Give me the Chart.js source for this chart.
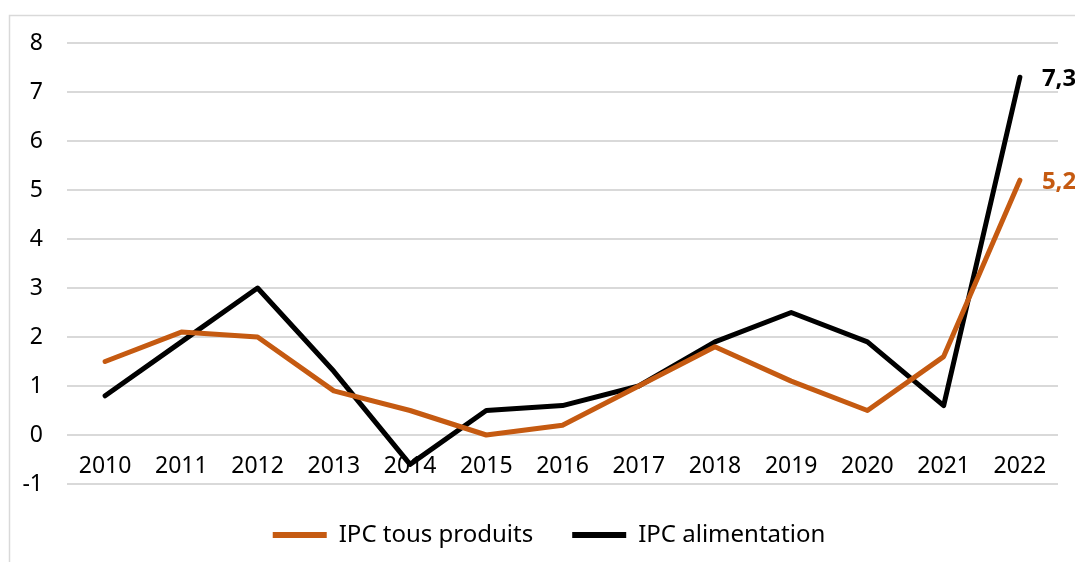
<!DOCTYPE html>
<html>
<head>
<meta charset="utf-8">
<script src="https://cdn.jsdelivr.net/npm/chart.js@4"></script>
<style>
  html, body { margin: 0; padding: 0; background: #fff; }
  #wrap { width: 1075px; height: 562px; position: relative; }
</style>
</head>
<body>
<div id="wrap"><canvas id="c" width="1075" height="562"></canvas></div>
<script>
const categories = ["2010","2011","2012","2013","2014","2015","2016","2017","2018","2019","2020","2021","2022"];
const ipcTousProduits = [1.5, 2.1, 2.0, 0.9, 0.5, 0.0, 0.2, 1.0, 1.8, 1.1, 0.5, 1.6, 5.2];
const ipcAlimentation = [0.8, 1.9, 3.0, 1.3, -0.6, 0.5, 0.6, 1.0, 1.9, 2.5, 1.9, 0.6, 7.3];
const seriesNames = ["IPC tous produits", "IPC alimentation"];
const endLabels = ["5,2", "7,3"];
const yMin = -1, yMax = 8;

const ORANGE = "#C55A11";
const BLACK = "#000000";
const FONT = "'Noto Sans', sans-serif";

const frame = {
  id: 'frame',
  beforeDraw(chart) {
    const ctx = chart.ctx;
    ctx.save();
    ctx.fillStyle = '#fff';
    ctx.fillRect(0, 0, chart.width, chart.height);
    ctx.strokeStyle = '#d9d9d9';
    ctx.lineWidth = 1.5;
    ctx.strokeRect(9.5, 15.5, 1200, 800);
    ctx.restore();
  }
};

const legendShift = {
  id: 'legendShift',
  afterLayout(chart) {
    if (chart.legend) chart.legend.left = 40;
  }
};

const endLabelPlugin = {
  id: 'endLabels',
  afterDatasetsDraw(chart) {
    const ctx = chart.ctx;
    ctx.save();
    chart.data.datasets.forEach((ds, i) => {
      const meta = chart.getDatasetMeta(i);
      const pt = meta.data[meta.data.length - 1];
      ctx.font = "bold 24px " + FONT;
      ctx.fillStyle = ds.borderColor;
      ctx.textBaseline = 'middle';
      ctx.textAlign = 'left';
      ctx.fillText(ds.endLabel, pt.x + 22, pt.y + 2);
    });
    ctx.restore();
  }
};

new Chart(document.getElementById('c'), {
  type: 'line',
  data: {
    labels: categories,
    datasets: [
      { label: seriesNames[0], data: ipcTousProduits, endLabel: endLabels[0], borderColor: ORANGE, backgroundColor: ORANGE,
        borderWidth: 5, pointRadius: 0, tension: 0, borderCapStyle: 'round', borderJoinStyle: 'round' },
      { label: seriesNames[1], data: ipcAlimentation, endLabel: endLabels[1], borderColor: BLACK, backgroundColor: BLACK,
        borderWidth: 5, pointRadius: 0, tension: 0, borderCapStyle: 'round', borderJoinStyle: 'round' }
    ]
  },
  options: {
    responsive: false,
    animation: false,
    devicePixelRatio: 1,
    layout: { padding: { left: 0, right: 17, top: 43, bottom: 5 } },
    plugins: {
      legend: {
        position: 'bottom',
        labels: {
          font: { family: FONT, size: 24 },
          color: '#000',
          boxWidth: 54,
          boxHeight: 6,
          padding: 39,
          generateLabels(chart) {
            return chart.data.datasets.map((ds, i) => ({
              text: ds.label, fillStyle: ds.borderColor, strokeStyle: ds.borderColor,
              lineWidth: 0, datasetIndex: i, fontColor: '#000'
            }));
          }
        }
      },
      tooltip: { enabled: false }
    },
    scales: {
      x: {
        position: { y: 0 },
        offset: true,
        grid: { display: false, drawTicks: false },
        border: { display: false },
        ticks: { font: { family: FONT, size: 23 }, color: '#000', padding: 18, maxRotation: 0, autoSkip: false }
      },
      y: {
        min: yMin, max: yMax,
        grid: { color: '#d9d9d9', lineWidth: 2, drawTicks: false },
        border: { display: false },
        ticks: { stepSize: 1, font: { family: FONT, size: 23 }, color: '#000', padding: 24 },
        afterFit(scale) { scale.width = 67; }
      }
    }
  },
  plugins: [frame, legendShift, endLabelPlugin]
});
</script>
</body>
</html>
